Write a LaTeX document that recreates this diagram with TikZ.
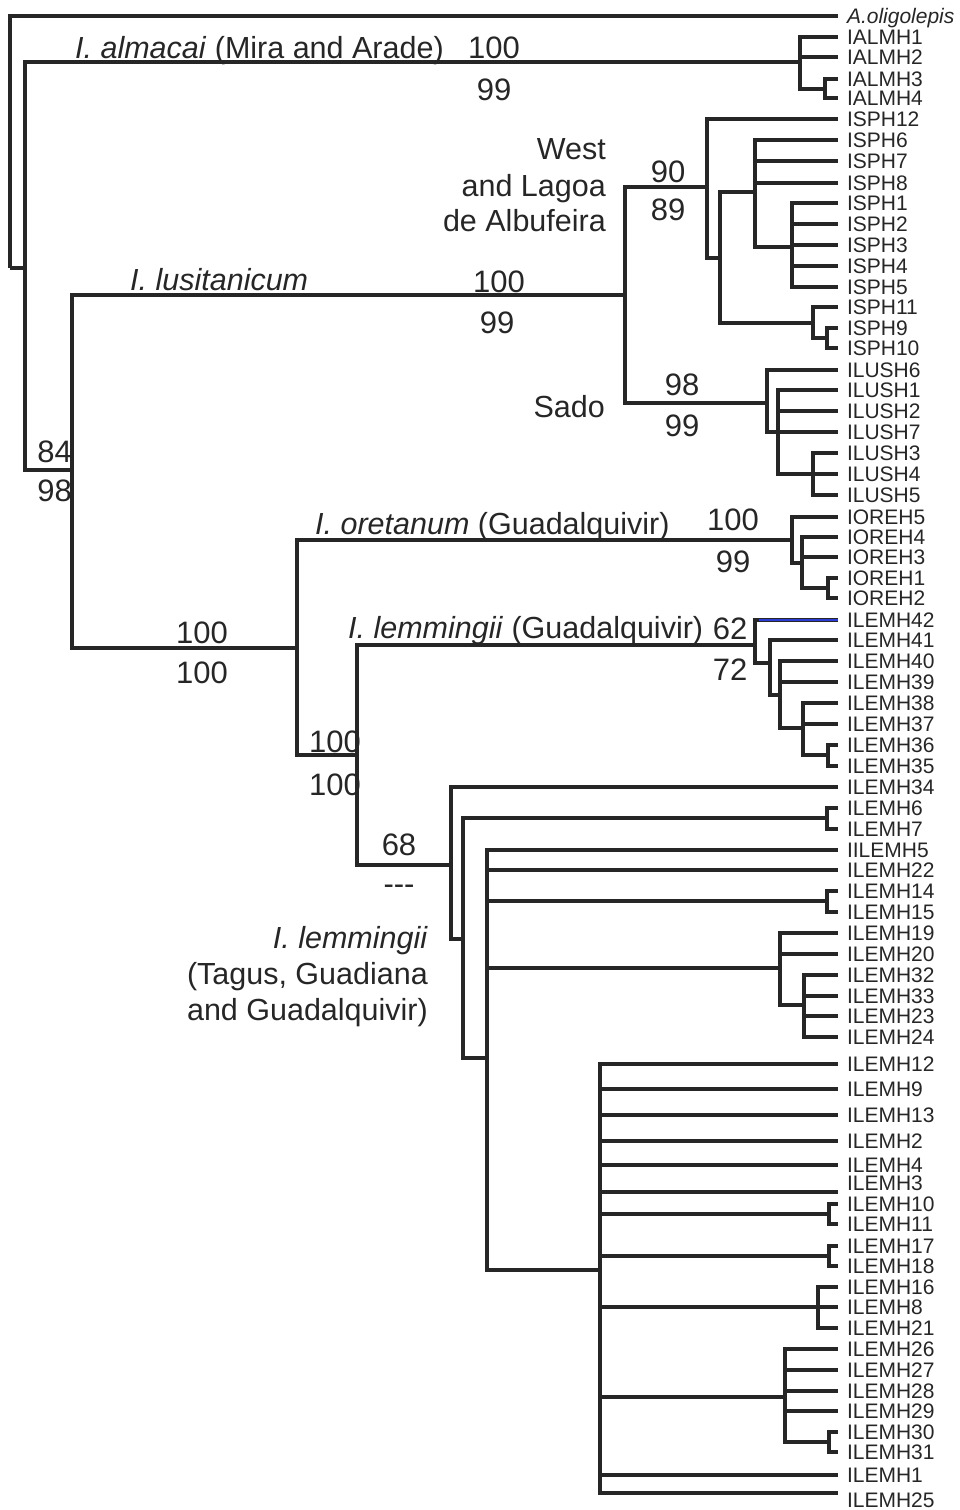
\documentclass[tikz,border=0pt]{standalone}
\usepackage{fontspec}
\setmainfont{Liberation Sans}
\usepackage{xcolor}
\usetikzlibrary{positioning}
\definecolor{ink}{HTML}{262626}
\definecolor{stray}{HTML}{2A3BD6}
\tikzset{
  branch/.style={draw=ink, line width=3.1pt},
  leaf/.style={anchor=west, inner xsep=9pt, inner ysep=0pt, outer sep=0pt,
               text height=15pt, text depth=0pt, text=ink,
               font=\fontsize{21}{21}\selectfont},
  support/.style={anchor=base, inner sep=0pt, text=ink,
                  font=\fontsize{31}{36}\selectfont},
  clade/.style={inner sep=0pt, text=ink, font=\fontsize{30.5}{36}\selectfont}
}

\begin{document}
\begin{tikzpicture}[x=1pt,y=-1pt]
  \useasboundingbox (0,0) rectangle (959,1510);
  % internal nodes: x of the vertical bar, y where the parent branch comes in
  \coordinate (root) at (10,268);
  \coordinate (n1) at (25,268);
  \coordinate (nALM) at (800,62);
  \coordinate (nALM34) at (825,89);
  \coordinate (n2) at (72,470);
  \coordinate (nLUS) at (625,295);
  \coordinate (nSPH) at (707,187);
  \coordinate (nSPHa) at (720,258);
  \coordinate (nSPHb) at (755,192);
  \coordinate (nSPHd) at (792,247);
  \coordinate (nSPHc) at (813,323);
  \coordinate (nSPHe) at (827,338);
  \coordinate (nSAD) at (767,403);
  \coordinate (nSADa) at (778,432);
  \coordinate (nSADb) at (813,474);
  \coordinate (nLEM) at (297,648);
  \coordinate (nORE) at (792,540);
  \coordinate (nOREa) at (802,563);
  \coordinate (nOREb) at (828,588);
  \coordinate (nLEM2) at (357,755);
  \coordinate (nGUA) at (755,645);
  \coordinate (nGUAa) at (770,663);
  \coordinate (nGUAb) at (780,695);
  \coordinate (nGUAc) at (803,728);
  \coordinate (nGUAd) at (828,755);
  \coordinate (nTGG) at (451,865);
  \coordinate (nTGa) at (463,939);
  \coordinate (nTG67) at (827,818);
  \coordinate (nTGb) at (487,1058);
  \coordinate (nTG1415) at (827,901);
  \coordinate (nTG19) at (780,968);
  \coordinate (nTG32) at (804,1005);
  \coordinate (nTGc) at (600,1270);
  \coordinate (nP1011) at (829,1214);
  \coordinate (nP1718) at (829,1256);
  \coordinate (nP16) at (818,1307);
  \coordinate (nP26) at (785,1397);
  \coordinate (nP3031) at (829,1442);
  \coordinate (tILEMH3) at (838,1192);
  \coordinate (tILEMH25) at (838,1493);

  % haplotypes
  \node[leaf,font=\fontsize{21}{21}\selectfont\itshape] (Aolig) at (838,16) {A.oligolepis};
  \foreach \n/\y in {IALMH1/37,IALMH2/57,IALMH3/79,IALMH4/98,
      ISPH12/119,ISPH6/140,ISPH7/161,ISPH8/183,ISPH1/203,ISPH2/224,ISPH3/245,
      ISPH4/266,ISPH5/287,ISPH11/307,ISPH9/328,ISPH10/348,
      ILUSH6/370,ILUSH1/390,ILUSH2/411,ILUSH7/432,ILUSH3/453,ILUSH4/474,ILUSH5/495,
      IOREH5/517,IOREH4/537,IOREH3/557,IOREH1/578,IOREH2/598,
      ILEMH42/620,ILEMH41/640,ILEMH40/661,ILEMH39/682,ILEMH38/703,ILEMH37/724,
      ILEMH36/745,ILEMH35/766,ILEMH34/787,ILEMH6/808,ILEMH7/829,IILEMH5/850,
      ILEMH22/870,ILEMH14/891,ILEMH15/912,ILEMH19/933,ILEMH20/954,ILEMH32/975,
      ILEMH33/996,ILEMH23/1016,ILEMH24/1037,ILEMH12/1064,ILEMH9/1089,ILEMH13/1115,
      ILEMH2/1141,ILEMH4/1165,ILEMH10/1204,ILEMH11/1224,ILEMH17/1246,ILEMH18/1266,
      ILEMH16/1287,ILEMH8/1307,ILEMH21/1328,ILEMH26/1349,ILEMH27/1370,ILEMH28/1391,
      ILEMH29/1411,ILEMH30/1432,ILEMH31/1452,ILEMH1/1475}
    \node[leaf] (\n) at (838,\y) {\n};
  \node[leaf] (ILEMH3) at (838,1183) {ILEMH3};
  \node[leaf] (ILEMH25) at (838,1500) {ILEMH25};

  % branches
  \foreach \p/\c in {root/Aolig,root/n1,n1/nALM,n1/n2,
      nALM/IALMH1,nALM/IALMH2,nALM/nALM34,nALM34/IALMH3,nALM34/IALMH4,
      n2/nLUS,n2/nLEM,nLUS/nSPH,nLUS/nSAD,
      nSPH/ISPH12,nSPH/nSPHa,nSPHa/nSPHb,nSPHa/nSPHc,
      nSPHb/ISPH6,nSPHb/ISPH7,nSPHb/ISPH8,nSPHb/nSPHd,
      nSPHd/ISPH1,nSPHd/ISPH2,nSPHd/ISPH3,nSPHd/ISPH4,nSPHd/ISPH5,
      nSPHc/ISPH11,nSPHc/nSPHe,nSPHe/ISPH9,nSPHe/ISPH10,
      nSAD/ILUSH6,nSAD/nSADa,nSADa/ILUSH1,nSADa/ILUSH2,nSADa/ILUSH7,nSADa/nSADb,
      nSADb/ILUSH3,nSADb/ILUSH4,nSADb/ILUSH5,
      nLEM/nORE,nLEM/nLEM2,nORE/IOREH5,nORE/nOREa,
      nOREa/IOREH4,nOREa/IOREH3,nOREa/nOREb,nOREb/IOREH1,nOREb/IOREH2,
      nLEM2/nGUA,nLEM2/nTGG,nGUA/ILEMH42,nGUA/nGUAa,
      nGUAa/ILEMH41,nGUAa/nGUAb,nGUAb/ILEMH40,nGUAb/ILEMH39,nGUAb/nGUAc,
      nGUAc/ILEMH38,nGUAc/ILEMH37,nGUAc/nGUAd,nGUAd/ILEMH36,nGUAd/ILEMH35,
      nTGG/ILEMH34,nTGG/nTGa,nTGa/nTG67,nTGa/nTGb,nTG67/ILEMH6,nTG67/ILEMH7,
      nTGb/IILEMH5,nTGb/ILEMH22,nTGb/nTG1415,nTGb/nTG19,nTGb/nTGc,
      nTG1415/ILEMH14,nTG1415/ILEMH15,
      nTG19/ILEMH19,nTG19/ILEMH20,nTG19/nTG32,
      nTG32/ILEMH32,nTG32/ILEMH33,nTG32/ILEMH23,nTG32/ILEMH24,
      nTGc/ILEMH12,nTGc/ILEMH9,nTGc/ILEMH13,nTGc/ILEMH2,nTGc/ILEMH4,nTGc/tILEMH3,
      nTGc/nP1011,nTGc/nP1718,nTGc/nP16,nTGc/nP26,nTGc/ILEMH1,nTGc/tILEMH25,
      nP1011/ILEMH10,nP1011/ILEMH11,nP1718/ILEMH17,nP1718/ILEMH18,
      nP16/ILEMH16,nP16/ILEMH8,nP16/ILEMH21,
      nP26/ILEMH26,nP26/ILEMH27,nP26/ILEMH28,nP26/ILEMH29,nP26/nP3031,
      nP3031/ILEMH30,nP3031/ILEMH31}
    \draw[branch] (\p) |- (\c);
  \draw[branch,draw=stray,line width=2.2pt] ([xshift=4pt]nGUA |- ILEMH42) -- (ILEMH42);

  % clade names and support values
  \node[clade,anchor=base west] (almName) at (75,58) {\textit{I. almacai} (Mira and Arade)};
  \node[support] (almHi) at (494,58) {100};
  \node[support] (almLo) at (494,100) {99};
  \node[clade,anchor=base east] (sphA) at (606,159) {West};
  \node[clade,anchor=base east] (sphB) at (606,196) {and Lagoa};
  \node[clade,anchor=base east] (sphC) at (606,231) {de Albufeira};
  \node[support] (sphHi) at (668,182) {90};
  \node[support] (sphLo) at (668,220) {89};
  \node[clade,anchor=base west] (lusName) at (130,290) {\textit{I. lusitanicum}};
  \node[support] (lusHi) at (499,292) {100};
  \node[support] (lusLo) at (497,333) {99};
  \node[clade,anchor=base east] (sadName) at (605,417) {Sado};
  \node[support] (sadHi) at (682,395) {98};
  \node[support] (sadLo) at (682,436) {99};
  \node[support,anchor=base east] (ibHi) at (72,462) {84};
  \node[support,anchor=base east] (ibLo) at (72,501) {98};
  \node[clade,anchor=base west] (oreName) at (315,534) {\textit{I. oretanum} (Guadalquivir)};
  \node[support] (oreHi) at (733,530) {100};
  \node[support] (oreLo) at (733,572) {99};
  \node[support] (lemHi) at (202,643) {100};
  \node[support] (lemLo) at (202,683) {100};
  \node[clade,anchor=base west] (guaName) at (348,638) {\textit{I. lemmingii} (Guadalquivir)};
  \node[support] (guaHi) at (730,639) {62};
  \node[support] (guaLo) at (730,680) {72};
  \node[support,anchor=base east] (splitHi) at (361,752) {100};
  \node[support,anchor=base east] (splitLo) at (361,795) {100};
  \node[support] (tggHi) at (399,855) {68};
  \node[support] (tggLo) at (399,894) {-{}-{}-};
  \node[clade,anchor=base east] (tggA) at (428,948) {\textit{I. lemmingii}};
  \node[clade,anchor=base east] (tggB) at (428,984) {(Tagus, Guadiana};
  \node[clade,anchor=base east] (tggC) at (428,1020) {and Guadalquivir)};
\end{tikzpicture}
\end{document}
